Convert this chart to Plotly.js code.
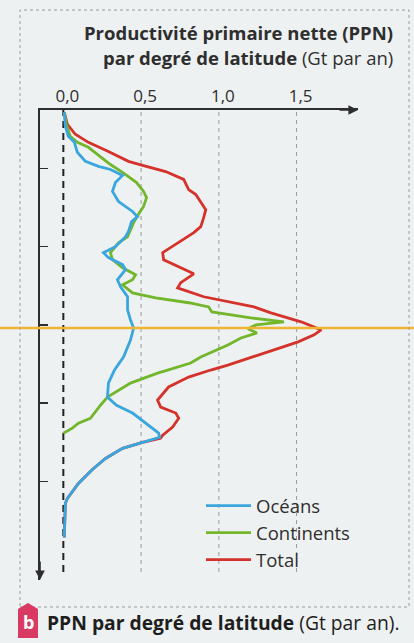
<!DOCTYPE html>
<html>
<head>
<meta charset="utf-8">
<script src="https://cdn.plot.ly/plotly-3.0.1.min.js"></script>
<style>
  html, body { margin: 0; padding: 0; background: #eef1f1; }
  #chart { width: 414px; height: 643px; }
</style>
</head>
<body>
<div id="chart"></div>
<script>
// ---- Data (latitude in degrees, PPN in Gt per year per degree of latitude) ----
const seriesNames = ["Océans", "Continents", "Total"];

const oceanLat = [81.5, 76.2, 72.3, 70, 66.2, 62.7, 60.8, 59.6, 57.3, 54.6, 51.2, 47.3, 43.5, 41.5, 39.6, 35.8, 33.8, 30, 27.7, 25.8, 23.1, 21.2, 17.3, 14.6, 10.8, 5.8, 1.9, -1.2, -5.8, -12.3, -17.3, -22.3, -27.7, -30.8, -33.8, -38.5, -41.5, -43.1, -45, -47.3, -51.2, -55.4, -60.8, -66.5, -68.5, -81.5];
const oceanPPN = [0.006, 0.013, 0.032, 0.071, 0.090, 0.142, 0.226, 0.303, 0.381, 0.335, 0.316, 0.355, 0.445, 0.477, 0.439, 0.419, 0.400, 0.335, 0.258, 0.290, 0.381, 0.400, 0.348, 0.368, 0.413, 0.413, 0.432, 0.452, 0.432, 0.387, 0.329, 0.290, 0.284, 0.342, 0.445, 0.548, 0.613, 0.619, 0.510, 0.381, 0.271, 0.187, 0.097, 0.026, 0.013, 0.006];

const landLat = [81.5, 76.9, 72.3, 70, 68.1, 64.6, 61.5, 58.5, 54.6, 51.2, 48.8, 45.4, 43.1, 39.2, 33.8, 31.5, 27.7, 25, 21.9, 19.2, 17.3, 15.4, 12.3, 10.4, 8.5, 6.9, 5, 3.8, 2.7, 1.2, 0, -1.5, -3.1, -5, -7.7, -12.3, -14.6, -17.3, -18.5, -22.3, -27.7, -30.8, -35.8, -37.7, -39.6, -41.5];
const landPPN = [0.006, 0.019, 0.045, 0.090, 0.161, 0.239, 0.303, 0.381, 0.471, 0.516, 0.535, 0.516, 0.490, 0.452, 0.413, 0.355, 0.303, 0.316, 0.381, 0.465, 0.445, 0.381, 0.445, 0.594, 0.806, 0.935, 0.955, 1.090, 1.206, 1.419, 1.239, 1.187, 1.245, 1.142, 1.058, 0.884, 0.819, 0.671, 0.606, 0.432, 0.284, 0.239, 0.174, 0.097, 0.058, 0];

const totalLat = [81.5, 76.9, 73.1, 70, 66.5, 62.7, 61.2, 58.8, 55.8, 51.9, 50, 47.3, 44.2, 41.2, 37.7, 35.4, 31.5, 27.7, 25, 21.9, 19.6, 16.2, 14.2, 10.8, 8.8, 6.9, 4.6, 1.2, -1.9, -3.8, -6.5, -9.6, -12.7, -15.4, -17.3, -20, -23.8, -28.8, -31.5, -33.8, -35.8, -39.2, -42.3, -43.5, -45, -47.3, -51.2, -55.4, -60.8, -66.5, -68.5, -81.5];
const totalPPN = [0.006, 0.026, 0.077, 0.161, 0.290, 0.419, 0.510, 0.658, 0.774, 0.806, 0.852, 0.884, 0.916, 0.903, 0.884, 0.839, 0.735, 0.639, 0.645, 0.755, 0.839, 0.755, 0.735, 0.903, 1.077, 1.226, 1.335, 1.529, 1.658, 1.613, 1.510, 1.355, 1.187, 1.058, 0.948, 0.806, 0.677, 0.606, 0.626, 0.723, 0.742, 0.703, 0.639, 0.625, 0.510, 0.381, 0.271, 0.187, 0.097, 0.026, 0.013, 0.006];

const xTickVals = [0, 0.5, 1.0, 1.5];
const xTickText = ["0,0", "0,5", "1,0", "1,5"];
const latTickVals = [-60, -30, 0, 30, 60];

const titleLine1 = "<b>Productivité primaire nette (PPN)</b>";
const titleLine2 = "<b>par degré de latitude</b> (Gt par an)";
const captionText = "<b>PPN par degré de latitude</b> (Gt par an).";

// ---- Styling / layout ----
const W = 414, H = 643;
const M = { l: 40, r: 56, t: 110, b: 63 };
const PW = W - M.l - M.r, PH = H - M.t - M.b;
const px = x => (x - M.l) / PW;          // pixel x -> paper x
const py = y => (H - M.b - y) / PH;      // pixel y -> paper y
const FONT = "Open Sans, Liberation Sans, sans-serif";
const INK = "#2e2e2e";
const colors = { "Océans": "#3aa6de", "Continents": "#72b62c", "Total": "#d4322a" };

const traces = [
  { name: seriesNames[2], x: totalPPN, y: totalLat, mode: "lines", line: { color: colors["Total"], width: 2.8 } },
  { name: seriesNames[1], x: landPPN, y: landLat, mode: "lines", line: { color: colors["Continents"], width: 2.8 } },
  { name: seriesNames[0], x: oceanPPN, y: oceanLat, mode: "lines", line: { color: colors["Océans"], width: 2.8 } }
];

const yRange = [-97.8, 82.4];
const shapes = [];
// reference dashed lines at the x ticks
xTickVals.forEach(v => {
  shapes.push({
    type: "line", xref: "x", yref: "paper", x0: v, x1: v, y0: py(572), y1: 1,
    line: v === 0 ? { color: "#222", width: 2, dash: "7px,5px" } : { color: "#9a9a9a", width: 1, dash: "4px,4px" },
    layer: "below"
  });
});
// equator line (yellow) across the whole page
shapes.push({ type: "line", xref: "paper", yref: "paper", x0: px(0), x1: px(W), y0: py(328), y1: py(328), line: { color: "#f1b534", width: 2.5 } });
// dashed frame
shapes.push({ type: "rect", xref: "paper", yref: "paper", x0: px(20), x1: px(409), y0: py(607), y1: py(10), line: { color: "#9c9c9c", width: 1, dash: "dot" } });
// caption badge
shapes.push({ type: "path", xref: "paper", yref: "paper",
  path: `M ${px(18)},${py(638)} L ${px(38)},${py(638)} L ${px(38)},${py(609)} L ${px(28)},${py(603)} L ${px(18)},${py(609)} Z`,
  fillcolor: "#d83a64", line: { width: 0 } });

const annotations = [
  { xref: "paper", yref: "paper", x: px(395), y: py(32), xanchor: "right", yanchor: "middle", showarrow: false, text: titleLine1, font: { family: FONT, size: 18.5, color: INK } },
  { xref: "paper", yref: "paper", x: px(395), y: py(57), xanchor: "right", yanchor: "middle", showarrow: false, text: titleLine2, font: { family: FONT, size: 18.5, color: INK } },
  // axis arrows
  { xref: "paper", yref: "paper", x: 1, y: 1, ax: -20, ay: 0, axref: "pixel", ayref: "pixel", text: "", showarrow: true, arrowhead: 2, arrowsize: 1.2, arrowwidth: 1.6, arrowcolor: INK },
  { xref: "paper", yref: "paper", x: 0, y: 0, ax: 0, ay: -20, text: "", showarrow: true, arrowhead: 2, arrowsize: 1.2, arrowwidth: 1.6, arrowcolor: INK },
  // caption
  { xref: "paper", yref: "paper", x: px(28), y: py(622), xanchor: "center", yanchor: "middle", showarrow: false, text: "<b>b</b>", font: { family: FONT, size: 18, color: "#ffffff" } },
  { xref: "paper", yref: "paper", x: px(45), y: py(622), xanchor: "left", yanchor: "middle", showarrow: false, text: captionText, font: { family: FONT, size: 19.3, color: "#1e1e1e" } }
];

const layout = {
  width: W, height: H,
  margin: M,
  paper_bgcolor: "#eef1f1",
  plot_bgcolor: "rgba(0,0,0,0)",
  font: { family: FONT, color: INK },
  showlegend: true,
  legend: {
    x: px(201), y: py(487), xanchor: "left", yanchor: "top",
    traceorder: "reversed", bgcolor: "rgba(0,0,0,0)",
    font: { family: FONT, size: 18.5, color: INK }, itemwidth: 45
  },
  xaxis: {
    side: "top", range: [-0.150, 1.895], tickvals: xTickVals, ticktext: xTickText,
    showgrid: false, zeroline: false, showline: true, linecolor: INK, linewidth: 1.6,
    ticks: "", ticklabelshift: 4, tickfont: { family: FONT, size: 17, color: INK }, fixedrange: true
  },
  yaxis: {
    range: yRange, tickvals: latTickVals, showticklabels: false,
    showgrid: false, zeroline: false, showline: true, linecolor: INK, linewidth: 1.6,
    ticks: "inside", ticklen: 8, tickwidth: 1.5, tickcolor: INK, fixedrange: true
  },
  shapes: shapes,
  annotations: annotations
};

Plotly.newPlot("chart", traces, layout, { staticPlot: true, displayModeBar: false });
</script>
</body>
</html>
